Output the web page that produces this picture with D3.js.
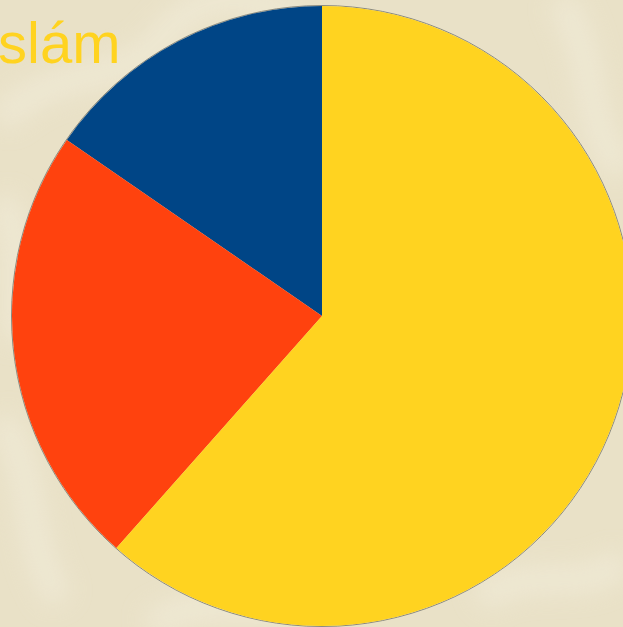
<!DOCTYPE html>
<html>
<head>
<meta charset="utf-8">
<script src="https://cdn.jsdelivr.net/npm/d3@7"></script>
<style>
  html, body { margin: 0; padding: 0; overflow: hidden; background: #e9e1c7; }
  svg { display: block; }
</style>
</head>
<body>
<svg id="chart"></svg>
<script>
const title = "Islám";
const categories = ["A", "B", "C"];
const values = [2, 3, 8];
const colors = ["#004586", "#ff420e", "#ffd320"];

const width = 623, height = 627;
const cx = 322, cy = 316, radius = 310;

const svg = d3.select("#chart")
  .attr("width", width)
  .attr("height", height);

// textured beige background (approximation)
const defs = svg.append("defs");
defs.append("filter").attr("id", "soft")
  .attr("x", "-20%").attr("y", "-20%").attr("width", "140%").attr("height", "140%")
  .append("feGaussianBlur").attr("stdDeviation", 12);

svg.append("rect")
  .attr("width", width)
  .attr("height", height)
  .attr("fill", "#e9e1c7");

const swirls = svg.append("g")
  .attr("filter", "url(#soft)")
  .attr("fill", "none")
  .attr("stroke", "#f3eedd")
  .attr("stroke-width", 26)
  .attr("opacity", 0.6);

swirls.append("path").attr("d", "M0,120 C60,60 120,90 160,40 S240,-10 300,20");
swirls.append("path").attr("d", "M560,0 C600,60 580,120 623,170");
swirls.append("path").attr("d", "M0,420 C40,470 20,540 60,600");
swirls.append("path").attr("d", "M480,600 C530,560 580,600 623,560");
swirls.append("path").attr("d", "M150,627 C200,590 260,620 300,600");
swirls.append("path").attr("d", "M0,200 C30,240 10,300 20,340");

const pie = d3.pie()
  .sort(null)
  .startAngle(0)
  .endAngle(-2 * Math.PI)
  .value(d => d.value);

const data = categories.map((c, i) => ({ name: c, value: values[i], color: colors[i] }));

const arc = d3.arc()
  .innerRadius(0)
  .outerRadius(radius);

const g = svg.append("g")
  .attr("transform", `translate(${cx}, ${cy})`);

g.append("circle")
  .attr("r", radius + 0.5)
  .attr("fill", "none")
  .attr("stroke", "#8a8a80")
  .attr("stroke-width", 1);

g.selectAll("path.slice")
  .data(pie(data))
  .join("path")
  .attr("class", "slice")
  .attr("d", arc)
  .attr("fill", d => d.data.color);

svg.append("text")
  .attr("x", -18)
  .attr("y", 63)
  .attr("font-family", "'Liberation Sans', Arial, sans-serif")
  .attr("font-size", "58px")
  .attr("fill", "#ffd320")
  .text(title);
</script>
</body>
</html>
